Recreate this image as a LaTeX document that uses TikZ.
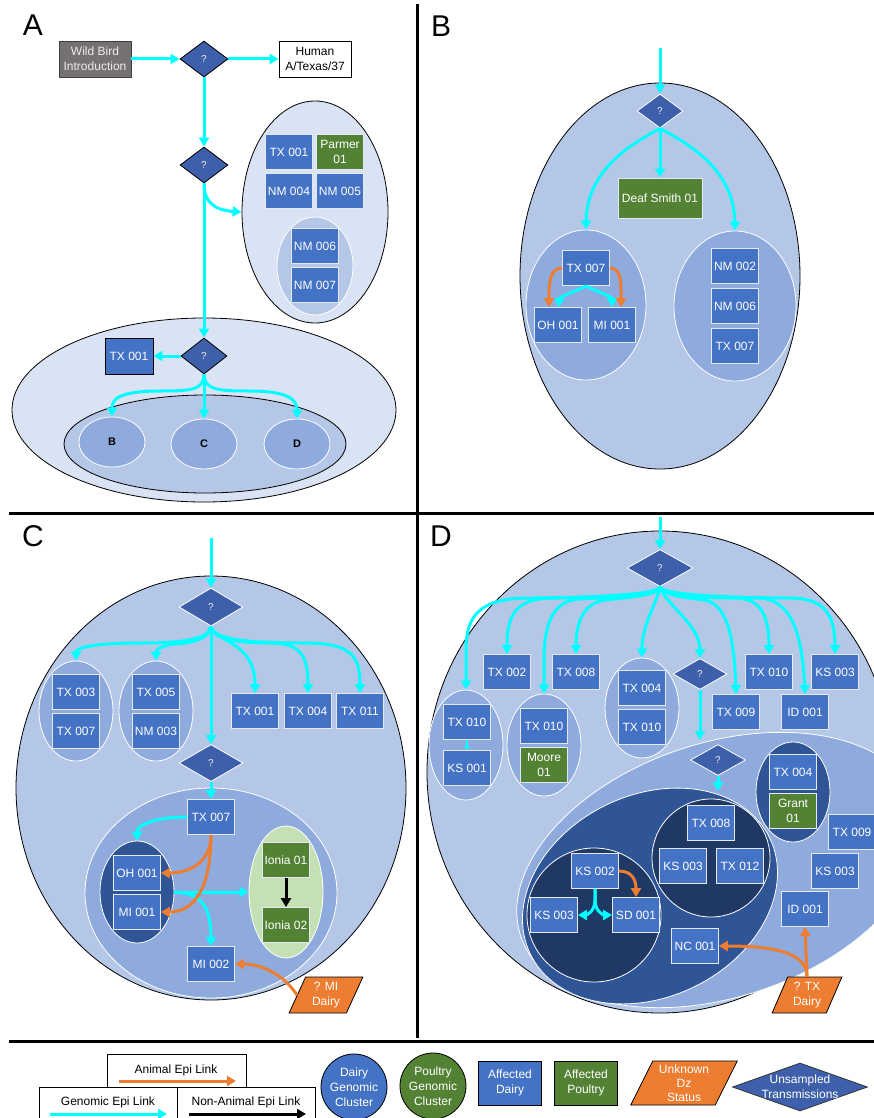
\documentclass[tikz,border=0pt]{standalone}
\usepackage{fontspec}
\setmainfont{Liberation Sans}
\usetikzlibrary{shapes.geometric,arrows.meta}
\definecolor{cyn}{HTML}{00FFFF}
\definecolor{org}{HTML}{ED7D31}
\definecolor{grn}{HTML}{548235}
\definecolor{blu}{HTML}{4472C4}
\definecolor{dia}{HTML}{3E60AA}
\definecolor{Lone}{HTML}{DAE3F3}
\definecolor{Ltwo}{HTML}{B4C7E7}
\definecolor{Lthree}{HTML}{8FAADC}
\definecolor{Lfour}{HTML}{2F5597}
\definecolor{Lfive}{HTML}{203864}
\definecolor{lgrn}{HTML}{C5E0B4}
\definecolor{gry}{HTML}{767171}
\tikzset{
 fnt/.style={font=\fontsize{12}{15}\selectfont},
 dairy/.style={rectangle, fill=blu, draw=white!85!blu, line width=0.8pt, text=white, minimum width=47pt, minimum height=35pt, inner sep=0pt, align=center, fnt},
 poultry/.style={dairy, fill=grn},
 qd/.style={diamond, fill=dia, draw=white, line width=0.8pt, minimum width=48pt, minimum height=36pt, inner sep=0pt, text=white!85!gray, font=\fontsize{10}{12}\selectfont},
 ell/.style={ellipse, inner sep=0pt, line width=0.8pt},
 sub/.style={ell, fill=Lthree, draw=white, minimum width=66pt, minimum height=50pt, font=\bfseries\fontsize{11}{13}\selectfont},
 cy/.style={draw=cyn, line width=3pt, -{Triangle[width=10pt,length=9pt]}},
 cythin/.style={draw=cyn, line width=1.5pt, -{Triangle[width=5pt,length=4pt]}},
 oa/.style={draw=org, line width=3pt, -{Triangle[width=10pt,length=9pt]}},
 ba/.style={draw=black, line width=3pt, -{Triangle[width=10pt,length=9pt]}},
 panel/.style={font=\fontsize{30}{30}\selectfont},
 unk/.style={trapezium, trapezium stretches=true, trapezium left angle=66, trapezium right angle=114, fill=org, draw=black, line width=0.8pt, text=white, inner sep=0pt, align=center, font=\fontsize{12}{14.5}\selectfont},
 lgbox/.style={rectangle, draw=black, line width=0.8pt, inner sep=0pt},
}
\begin{document}
\begin{tikzpicture}[x=1pt,y=-1pt]
\useasboundingbox (0,0) rectangle (874,1118);
\clip (0,0) rectangle (874,1118);

% ================= Panel A =================
\node[panel] (labA) at (33,25) {A};
\node[ell, fill=Lone, draw=black, minimum width=146pt, minimum height=222pt] (eA1) at (315,212) {};
\node[ell, fill=Ltwo, draw=white, minimum width=76pt, minimum height=98pt] (eA2) at (315,266) {};
\node[ell, fill=Lone, draw=black, minimum width=384pt, minimum height=184pt] (eA3) at (204,410) {};
\node[ell, fill=Ltwo, draw=black, minimum width=282pt, minimum height=98pt] (eA4) at (205,444) {};
\node[sub] (eAB) at (112,442) {B};
\node[sub] (eAC) at (204,444) {C};
\node[sub] (eAD) at (297,444) {D};

\node[rectangle, fill=gry, draw=black!75, line width=0.8pt, minimum width=72pt, minimum height=36pt, text=white!85!gray, align=center, fnt, inner sep=0pt] (wild) at (95,59) {Wild Bird\\Introduction};
\node[rectangle, fill=white, draw=black, line width=0.8pt, minimum width=72pt, minimum height=36pt, align=center, fnt, inner sep=0pt] (human) at (315,59) {Human\\A/Texas/37};
\node[qd, draw=black] (qA1) at (204,59) {?};
\node[qd, draw=black] (qA2) at (204,165) {?};
\node[qd, draw=black, minimum width=46pt] (qA3) at (204,356) {?};

\node[dairy] (txA1) at (289,152) {TX 001};
\node[poultry] (parmer) at (340,152) {Parmer\\01};
\node[dairy] (nmA4) at (289,191) {NM 004};
\node[dairy] (nmA5) at (340,191) {NM 005};
\node[dairy] (nmA6) at (315,246) {NM 006};
\node[dairy] (nmA7) at (315,285) {NM 007};
\node[dairy, draw=black, minimum width=48pt, minimum height=36pt] (txA4) at (129,356) {TX 001};

\draw[cy] (wild) -- (qA1);
\draw[cy] (qA1) -- (human);
\draw[cy] (qA1) -- (qA2);
\draw[cy] (qA2.south) .. controls (204,202) and (214,210) .. (eA1.west);
\draw[cy] (qA2) -- (qA3);
\draw[cy] (qA3) -- (txA4);
\draw[cy] (qA3.south) .. controls +(0,16) and +(30,0) .. (160,391) .. controls +(-42,0) and +(0,-17) .. (eAB.north);
\draw[cy] (qA3) -- (eAC);
\draw[cy] (qA3.south) .. controls +(0,16) and +(-30,0) .. (250,391) .. controls +(42,0) and +(0,-17) .. (eAD.north);

% ================= Panel B =================
\node[panel] (labB) at (441,26) {B};
\coordinate (bTop) at (660,48);
\node[ell, fill=Ltwo, draw=black, minimum width=280pt, minimum height=386pt] (eB0) at (660,276) {};
\node[ell, fill=Lthree, draw=white, minimum width=120pt, minimum height=150pt] (eB1) at (586,305) {};
\node[ell, fill=Lthree, draw=white, minimum width=122pt, minimum height=150pt] (eB2) at (735,306) {};
\node[qd, minimum width=46pt, minimum height=34pt] (qB) at (660,111) {?};
\node[poultry, minimum width=84pt, minimum height=40pt] (deaf) at (660,198) {Deaf Smith 01};
\node[dairy] (tx7B) at (586,268) {TX 007};
\node[dairy] (oh1B) at (558,325) {OH 001};
\node[dairy] (mi1B) at (612,325) {MI 001};
\node[dairy] (nm2B) at (735,266) {NM 002};
\node[dairy] (nm6B) at (735,306) {NM 006};
\node[dairy] (tx7Bb) at (735,346) {TX 007};

\draw[cy] (bTop) -- (qB);
\draw[cy] (qB) -- (deaf);
\draw[cy] (qB.south) .. controls (640,140) and (587,165) .. (eB1.north);
\draw[cy] (qB.south) .. controls (680,140) and (734,165) .. (eB2.north);
\draw[cy] (tx7B.south) .. controls (575,292) and (560,296) .. (oh1B.north);
\draw[cy] (tx7B.south) .. controls (597,292) and (612,296) .. (mi1B.north);
\draw[oa] (tx7B.west) .. controls (549,268) and (549,285) .. ([xshift=-9pt]oh1B.north);
\draw[oa] (tx7B.east) .. controls (622,268) and (621,285) .. ([xshift=9pt]mi1B.north);

% ================= Panel C =================
\node[panel] (labC) at (33,536) {C};
\coordinate (cTop) at (211,538);
\node[ell, fill=Ltwo, draw=black, minimum width=390pt, minimum height=424pt] (eC0) at (211,788) {};
\node[ell, fill=Lthree, draw=white, minimum width=74pt, minimum height=100pt] (eC1) at (76,711) {};
\node[ell, fill=Lthree, draw=white, minimum width=74pt, minimum height=100pt] (eC2) at (156,711) {};
\node[ell, fill=Lthree, draw=white, minimum width=252pt, minimum height=210pt] (eCm) at (211,893) {};
\node[ell, fill=Lfour, draw=white, minimum width=74pt, minimum height=102pt] (eCd) at (137,892) {};
\node[ell, fill=lgrn, draw=white, minimum width=74pt, minimum height=132pt] (eCg) at (286,892) {};
\node[qd, minimum width=64pt, minimum height=38pt] (qC1) at (211,607) {?};
\node[qd, minimum width=64pt, minimum height=37pt] (qC2) at (211,763) {?};
\node[dairy] (tx3C) at (76,692) {TX 003};
\node[dairy] (tx7Ca) at (76,731) {TX 007};
\node[dairy] (tx5C) at (156,692) {TX 005};
\node[dairy] (nm3C) at (156,731) {NM 003};
\node[dairy] (tx1C) at (255,711) {TX 001};
\node[dairy] (tx4C) at (308,711) {TX 004};
\node[dairy] (tx11C) at (360,711) {TX 011};
\node[dairy] (tx7C) at (211,817) {TX 007};
\node[dairy] (oh1C) at (137,873) {OH 001};
\node[dairy] (mi1C) at (137,912) {MI 001};
\node[poultry] (ion1) at (286,860) {Ionia 01};
\node[poultry] (ion2) at (286,925) {Ionia 02};
\node[dairy] (mi2C) at (211,964) {MI 002};
\node[unk, minimum width=74pt, minimum height=36pt] (pMI) at (326,995) {? MI\\Dairy};

\draw[cy] (cTop) -- (qC1);
\draw[cy] (qC1.south) .. controls (209,640) and (180,643) .. (140,643) .. controls (92,643) and (76,648) .. (eC1.north);
\draw[cy] (qC1.south) .. controls (209,640) and (190,643) .. (175,644) .. controls (162,645) and (156,650) .. (eC2.north);
\draw[cy] (qC1.south) .. controls (213,642) and (255,640) .. (tx1C.north);
\draw[cy] (qC1.south) .. controls (213,640) and (240,643) .. (270,643) .. controls (300,643) and (308,655) .. (tx4C.north);
\draw[cy] (qC1.south) .. controls (213,640) and (250,643) .. (305,643) .. controls (350,643) and (360,655) .. (tx11C.north);
\draw[cy] (qC1) -- (qC2);
\draw[cy] (qC2) -- (tx7C);
\draw[cy] (tx7C.west) .. controls (155,817) and (137,825) .. (eCd.north);
\draw[cy] (eCd.east) -- (eCg.west);
\draw[cy] (eCd.east) .. controls (200,893) and (211,905) .. (mi2C.north);
\draw[oa] (tx7C.south) .. controls (211,862) and (190,873) .. (oh1C.east);
\draw[oa] (tx7C.south) .. controls (211,885) and (196,912) .. (mi1C.east);
\draw[ba] (ion1) -- (ion2);
\draw[oa] (pMI.west) .. controls (284,975) and (262,964) .. (mi2C.east);

% ================= Panel D =================
\node[panel] (labD) at (441,536) {D};
\coordinate (dTop) at (660,517);
\node[ell, fill=Ltwo, draw=black, minimum width=466pt, minimum height=482pt] (eD0) at (660,772) {};
\node[ell, fill=Lthree, draw=white, rotate=18.5, minimum width=420pt, minimum height=254pt] (eDm) at (720,870) {};
\node[ell, fill=Lfour, draw=white, rotate=26, minimum width=266pt, minimum height=202pt] (eDk) at (650,896) {};
\node[ell, fill=Lfive, draw=white, minimum width=118pt, minimum height=118pt] (eDc1) at (711,858) {};
\node[ell, fill=Lfive, draw=white, minimum width=134pt, minimum height=134pt] (eDc2) at (594,915) {};
\node[ell, fill=Lfour, draw=white, minimum width=74pt, minimum height=100pt] (eDg) at (793,792) {};
\node[ell, fill=Lthree, draw=white, minimum width=74pt, minimum height=110pt] (eD1) at (466,745) {};
\node[ell, fill=Lthree, draw=white, minimum width=74pt, minimum height=102pt] (eD2) at (544,745) {};
\node[ell, fill=Lthree, draw=white, minimum width=74pt, minimum height=100pt] (eD3) at (642,708) {};

\node[qd, minimum width=66pt, minimum height=37pt] (qD1) at (660,568) {?};
\node[qd, minimum width=54pt, minimum height=31pt] (qD2) at (700,674) {?};
\node[qd, minimum width=55pt, minimum height=31pt] (qD3) at (718,760) {?};
\coordinate (dEnd2) at (700,740);
\coordinate (dEnd3) at (718,791);

\node[dairy] (tx2D) at (507,672) {TX 002};
\node[dairy] (tx8D) at (576,672) {TX 008};
\node[dairy] (tx10D) at (769,672) {TX 010};
\node[dairy] (ks3D) at (835,672) {KS 003};
\node[dairy] (tx9D) at (736,712) {TX 009};
\node[dairy] (id1D) at (805,712) {ID 001};
\node[dairy] (tx10a) at (467,722) {TX 010};
\node[dairy] (ks1a) at (467,768) {KS 001};
\node[dairy] (tx10b) at (544,726) {TX 010};
\node[poultry] (moore) at (544,765) {Moore\\01};
\node[dairy] (tx4a) at (642,688) {TX 004};
\node[dairy] (tx10c) at (642,727) {TX 010};
\node[dairy] (tx4g) at (793,772) {TX 004};
\node[poultry] (grant) at (793,811) {Grant\\01};
\node[dairy] (tx8c) at (711,823) {TX 008};
\node[dairy] (ks3c) at (683,866) {KS 003};
\node[dairy] (tx12c) at (740,866) {TX 012};
\node[dairy] (ks2e) at (595,871) {KS 002};
\node[dairy] (ks3e) at (554,915) {KS 003};
\node[dairy] (sd1e) at (636,915) {SD 001};
\node[dairy] (nc1) at (695,946) {NC 001};
\node[dairy] (tx9r) at (852,832) {TX 009};
\node[dairy] (ks3r) at (835,871) {KS 003};
\node[dairy] (id1r) at (805,909) {ID 001};
\node[unk, minimum width=70pt, minimum height=36pt] (pTX) at (807,995) {? TX\\Dairy};

\draw[cy] (dTop) -- (qD1);
\draw[cy] (qD1.south) .. controls (660,596) and (560,598) .. (530,598) .. controls (480,598) and (466,615) .. (466,650) -- (eD1.north);
\draw[cy] (qD1.south) .. controls (660,596) and (580,598) .. (555,598) .. controls (520,598) and (507,610) .. (tx2D.north);
\draw[cy] (qD1.south) .. controls (660,596) and (600,598) .. (580,599) .. controls (555,600) and (545,620) .. (544,655) -- (eD2.north);
\draw[cy] (qD1.south) .. controls (660,596) and (620,598) .. (605,600) .. controls (585,603) and (576,620) .. (tx8D.north);
\draw[cy] (qD1.south) .. controls (656,605) and (642,625) .. (eD3.north);
\draw[cy] (qD1.south) .. controls (666,605) and (700,625) .. (qD2.north);
\draw[cy] (qD1.south) .. controls (662,596) and (690,598) .. (705,600) .. controls (725,605) and (734,630) .. (tx9D.north);
\draw[cy] (qD1.south) .. controls (662,596) and (710,598) .. (735,598) .. controls (758,598) and (769,612) .. (tx10D.north);
\draw[cy] (qD1.south) .. controls (662,596) and (730,598) .. (760,598) .. controls (790,600) and (802,630) .. (id1D.north);
\draw[cy] (qD1.south) .. controls (662,596) and (750,598) .. (790,598) .. controls (822,598) and (835,612) .. (ks3D.north);
\draw[cythin] (tx10a) -- (ks1a);
\draw[cy] (qD2) -- (dEnd2);
\draw[cy] (qD3) -- (dEnd3);
\draw[cy] (ks2e.south) -- (595,900) .. controls (595,912) and (586,915) .. (ks3e.east);
\draw[cy] (ks2e.south) -- (595,900) .. controls (595,912) and (604,915) .. (sd1e.west);
\draw[oa] (ks2e.east) .. controls (632,871) and (636,880) .. (sd1e.north);
\draw[oa] (pTX.north) -- (id1r.south);
\draw[oa] (pTX.north) .. controls (807,952) and (772,946) .. (nc1.east);

% ================= Legend =================
\node[lgbox, minimum width=139pt, minimum height=33pt] (lgA) at (176.5,1070.5) {};
\node[fnt] (lgAt) at (176,1070) {Animal Epi Link};
\coordinate (lgA1) at (119,1081);
\coordinate (lgA2) at (236,1081);
\draw[oa] (lgA1) -- (lgA2);
\node[lgbox, minimum width=138pt, minimum height=44pt] (lgG) at (108,1109) {};
\node[fnt] (lgGt) at (108,1102) {Genomic Epi Link};
\coordinate (lgG1) at (50,1114);
\coordinate (lgG2) at (167,1114);
\draw[cy] (lgG1) -- (lgG2);
\node[lgbox, minimum width=138pt, minimum height=44pt] (lgN) at (246,1109) {};
\node[fnt] (lgNt) at (246,1102) {Non-Animal Epi Link};
\coordinate (lgN1) at (189,1114);
\coordinate (lgN2) at (306,1114);
\draw[ba] (lgN1) -- (lgN2);
\node[circle, fill=blu, draw=black, line width=0.8pt, minimum size=66pt, inner sep=0pt, text=white, align=center, fnt] (lgDC) at (354,1087) {Dairy\\Genomic\\Cluster};
\node[circle, fill=grn, draw=black, line width=0.8pt, minimum size=66pt, inner sep=0pt, text=white, align=center, fnt] (lgPC) at (433,1086) {Poultry\\Genomic\\Cluster};
\node[dairy, draw=black, minimum width=63pt, minimum height=44pt] (lgAD) at (510,1083) {Affected\\Dairy};
\node[poultry, draw=black, minimum width=63pt, minimum height=44pt] (lgAP) at (586,1083) {Affected\\Poultry};
\node[unk, trapezium left angle=64.5, trapezium right angle=115.5, minimum width=107pt, minimum height=44pt, font=\fontsize{12}{14}\selectfont] (lgU) at (684,1083) {Unknown\\Dz\\Status};
\node[qd, draw=black!80, minimum width=135pt, minimum height=48pt] (lgT) at (800,1087) {};
\node[text=white, align=center, fnt] (lgTt) at (800,1087) {Unsampled\\Transmissions};

% ================= Frame lines =================
\draw[line width=3pt] (417,4) -- (417,1038);
\draw[line width=3pt] (9,513) -- (874,513);
\draw[line width=3pt] (9,1041) -- (874,1041);
\end{tikzpicture}
\end{document}
